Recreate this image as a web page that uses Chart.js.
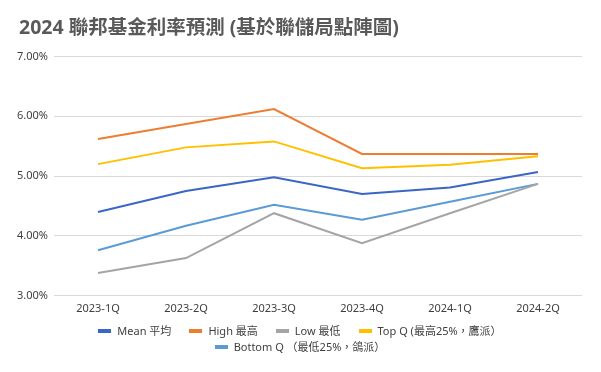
<!DOCTYPE html>
<html>
<head>
<meta charset="utf-8">
<script src="https://cdn.jsdelivr.net/npm/chart.js@4"></script>
<style>
  html, body { margin: 0; padding: 0; background: #fff; }
  #wrap { position: relative; width: 601px; height: 372px; }
  #legend {
    position: absolute; left: 80px; top: 323px; width: 440px;
    display: flex; flex-wrap: wrap; justify-content: center;
    font-family: "Noto Sans", "Noto Sans CJK TC", sans-serif;
    font-size: 11px; color: #404040; line-height: 16px;
  }
  .item { display: flex; align-items: center; margin: 0 9px; white-space: nowrap; }
  .box { display: inline-block; width: 13px; height: 4px; margin-right: 6px; }
</style>
</head>
<body>
<div id="wrap">
  <canvas id="chart" width="601" height="372"></canvas>
  <div id="legend"></div>
</div>
<script>
const quarters = ['2023-1Q', '2023-2Q', '2023-3Q', '2023-4Q', '2024-1Q', '2024-2Q'];
const meanRate = [4.40, 4.75, 4.98, 4.70, 4.81, 5.07];
const highRate = [5.62, 5.87, 6.12, 5.37, 5.37, 5.37];
const lowRate = [3.38, 3.63, 4.38, 3.88, 4.38, 4.87];
const topQ = [5.20, 5.48, 5.58, 5.13, 5.19, 5.33];
const bottomQ = [3.76, 4.17, 4.52, 4.27, 4.57, 4.87];
const yTicks = [3, 4, 5, 6, 7];

const FONT = '"Noto Sans", "Noto Sans CJK TC", sans-serif';

function line(label, data, color) {
    return {
        label: label,
        data: data,
        borderColor: color,
        backgroundColor: color,
        borderWidth: 2,
        pointRadius: 0,
        tension: 0,
        fill: false
    };
}

// title sits a few px right of the y labels in the original
const titleShift = {
    id: 'titleShift',
    afterLayout(c) {
        if (c.titleBlock) c.titleBlock.left += 5;
    }
};

const ctx = document.getElementById('chart').getContext('2d');
const chart = new Chart(ctx, {
    type: 'line',
    data: {
        labels: quarters,
        datasets: [
            line('Mean 平均', meanRate, '#3A66C6'),
            line('High 最高', highRate, '#ED7D31'),
            line('Low 最低', lowRate, '#A5A5A5'),
            line('Top Q (最高25%，鷹派）', topQ, '#FFC000'),
            line('Bottom Q （最低25%，鴿派）', bottomQ, '#5B9BD5')
        ]
    },
    options: {
        responsive: false,
        animation: false,
        layout: { padding: { left: 14, right: 19, top: 0, bottom: 51 } },
        plugins: {
            title: {
                display: true,
                text: '2024 聯邦基金利率預測 (基於聯儲局點陣圖)',
                align: 'start',
                color: '#595959',
                font: { family: FONT, size: 19.5, weight: 'bold' },
                padding: { top: 17, bottom: 16 }
            },
            legend: { display: false },
            tooltip: { enabled: false }
        },
        scales: {
            y: {
                min: 3,
                max: 7,
                afterFit: s => { s.width = 40; },
                afterBuildTicks: s => { s.ticks = yTicks.map(v => ({ value: v })); },
                ticks: {
                    color: '#404040',
                    font: { family: FONT, size: 11 },
                    padding: 6,
                    callback: v => v.toFixed(2) + '%'
                },
                grid: { color: '#d9d9d9', lineWidth: 1, drawTicks: false },
                border: { display: false }
            },
            x: {
                offset: true,
                ticks: {
                    color: '#404040',
                    font: { family: FONT, size: 11 },
                    padding: 6,
                    maxRotation: 0
                },
                grid: { display: false, drawTicks: false, offset: true },
                border: { display: false }
            }
        }
    },
    plugins: [titleShift]
});

// legend below the chart, wraps into two rows like the original
const legend = document.getElementById('legend');
chart.data.datasets.forEach(ds => {
    const item = document.createElement('span');
    item.className = 'item';
    const box = document.createElement('span');
    box.className = 'box';
    box.style.background = ds.borderColor;
    item.appendChild(box);
    item.appendChild(document.createTextNode(ds.label));
    legend.appendChild(item);
});
</script>
</body>
</html>
